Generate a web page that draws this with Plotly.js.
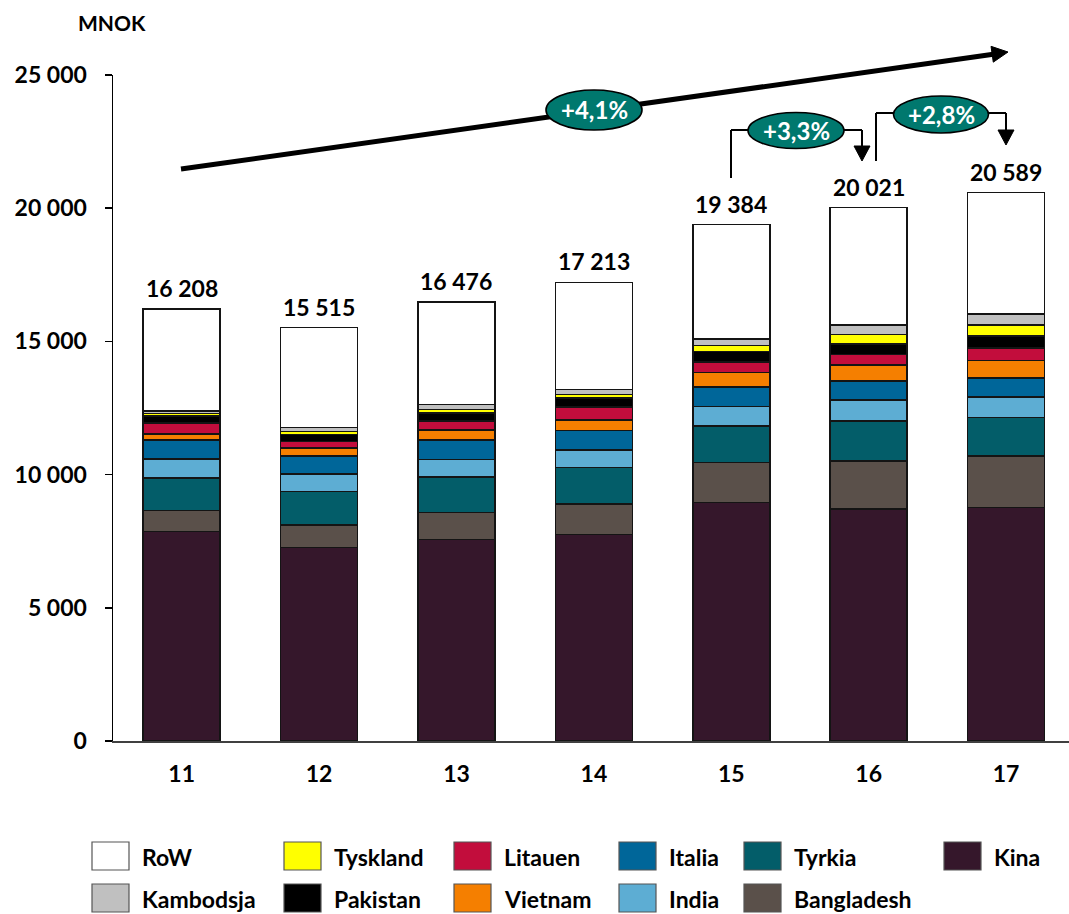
<!DOCTYPE html>
<html>
<head>
<meta charset="utf-8">
<script src="https://cdn.plot.ly/plotly-3.0.1.min.js"></script>
<style>html,body{margin:0;padding:0;background:#fff;}#chart{width:1069px;height:914px;}</style>
</head>
<body>
<div id="chart"></div>
<script>
// ---- data ----
const years = ['11', '12', '13', '14', '15', '16', '17'];
const totals = [16208, 15515, 16476, 17213, 19384, 20021, 20589];
const kina = [7860, 7270, 7570, 7750, 8950, 8710, 8770];
const bangladesh = [790, 840, 1010, 1140, 1500, 1800, 1930];
const tyrkia = [1220, 1260, 1330, 1380, 1380, 1500, 1440];
const india = [710, 650, 660, 650, 720, 790, 780];
const italia = [720, 680, 720, 740, 730, 710, 710];
const vietnam = [230, 290, 380, 390, 550, 600, 660];
const litauen = [400, 260, 350, 480, 390, 400, 470];
const pakistan = [280, 250, 290, 340, 400, 400, 440];
const tyskland = [80, 120, 130, 130, 230, 350, 410];
const kambodsja = [100, 150, 190, 200, 250, 360, 410];
const rowRest = [3818, 3745, 3846, 4013, 4284, 4401, 4569];
const seriesNames = ['Kina', 'Bangladesh', 'Tyrkia', 'India', 'Italia', 'Vietnam', 'Litauen', 'Pakistan', 'Tyskland', 'Kambodsja', 'RoW'];
const seriesValues = [kina, bangladesh, tyrkia, india, italia, vietnam, litauen, pakistan, tyskland, kambodsja, rowRest];
const seriesColors = ['#35172B', '#5A504A', '#035D69', '#5DADD3', '#006699', '#F57F00', '#C20D3C', '#000000', '#FFFF00', '#C0C0C0', '#FFFFFF'];
const legendRows = [['RoW', 'Tyskland', 'Litauen', 'Italia', 'Tyrkia', 'Kina'],
                    ['Kambodsja', 'Pakistan', 'Vietnam', 'India', 'Bangladesh']];
const yTicks = [0, 5000, 10000, 15000, 20000, 25000];
const unitLabel = 'MNOK';
const growthLabels = ['+4,1%', '+3,3%', '+2,8%'];

// ---- geometry helpers (plot area in pixels) ----
const L = 113, T = 75, W = 956, PH = 666, B = T + PH;
const FONT = 'Lato, "Liberation Sans", sans-serif';
function px(x) { return (x - L) / W; }
function py(y) { return (B - y) / PH; }
function fmt(n) { return String(n).replace(/\B(?=(\d{3})+(?!\d))/g, ' '); }

const traces = seriesNames.map((name, i) => ({
  type: 'bar',
  name: name,
  x: years,
  y: seriesValues[i],
  marker: { color: seriesColors[i], line: { color: '#141414', width: 1.6 } },
  hoverinfo: 'name+y',
  showlegend: false
}));

const annotations = [];
const shapes = [];

// totals above bars (x given as category index)
years.forEach((yr, i) => {
  annotations.push({
    x: i, y: totals[i], xref: 'x', yref: 'y', text: fmt(totals[i]),
    showarrow: false, xanchor: 'center', yanchor: 'middle', yshift: 21,
    font: { family: FONT, size: 23, color: '#000', weight: 'bold' }
  });
});

// unit label
annotations.push({
  x: px(112), y: py(23), xref: 'paper', yref: 'paper', text: unitLabel, showarrow: false,
  xanchor: 'center', yanchor: 'middle', font: { family: FONT, size: 21, color: '#000', weight: 'bold' }
});

// big trend arrow
function arrowHead(tipX, tipY, fromX, fromY, len, half) {
  const dx = tipX - fromX, dy = tipY - fromY, d = Math.hypot(dx, dy);
  const ux = dx / d, uy = dy / d;
  const bx = tipX - ux * len, by = tipY - uy * len;
  const p1 = [bx - uy * half, by + ux * half], p2 = [bx + uy * half, by - ux * half];
  return {
    type: 'path', xref: 'paper', yref: 'paper',
    path: `M ${px(tipX)},${py(tipY)} L ${px(p1[0])},${py(p1[1])} L ${px(p2[0])},${py(p2[1])} Z`,
    fillcolor: '#000', line: { color: '#000', width: 1 }
  };
}
shapes.push({ type: 'line', xref: 'paper', yref: 'paper', x0: px(181), y0: py(169), x1: px(995), y1: py(54), line: { color: '#000', width: 5 } });
shapes.push(arrowHead(1008, 52, 181, 169, 16, 8));

function ellipse(cx, cy, w, h, label) {
  shapes.push({ type: 'circle', xref: 'paper', yref: 'paper', x0: px(cx - w / 2), x1: px(cx + w / 2), y0: py(cy + h / 2), y1: py(cy - h / 2),
    fillcolor: '#00786E', line: { color: '#000', width: 1.6 } });
  annotations.push({ x: px(cx), y: py(cy), xref: 'paper', yref: 'paper', text: label, showarrow: false,
    xanchor: 'center', yanchor: 'middle', font: { family: FONT, size: 24, color: '#fff', weight: 'bold' } });
}
function seg(x0, y0, x1, y1, w) {
  shapes.push({ type: 'line', xref: 'paper', yref: 'paper', x0: px(x0), y0: py(y0), x1: px(x1), y1: py(y1), line: { color: '#000', width: w } });
}

ellipse(594, 110, 96, 40, growthLabels[0]);

// bracket 15 -> 16
seg(731, 178, 731, 130, 2); seg(731, 130, 750, 130, 2);
seg(842, 130, 862, 130, 2); seg(862, 130, 862, 147, 2);
shapes.push(arrowHead(862, 161, 862, 130, 15, 8));
ellipse(796, 130.5, 96, 36, growthLabels[1]);

// bracket 16 -> 17
seg(876, 161, 876, 113, 2); seg(876, 113, 896, 113, 2);
seg(987, 113, 1006, 113, 2); seg(1006, 113, 1006, 131, 2);
shapes.push(arrowHead(1006, 145, 1006, 113, 15, 8));
ellipse(941, 114.5, 95, 37, growthLabels[2]);

// custom legend
const colX = [92, 284, 454, 619, 744, 944];
const rowY = [856, 898];
legendRows.forEach((row, r) => {
  row.forEach((name, c) => {
    const idx = seriesNames.indexOf(name);
    shapes.push({ type: 'rect', xref: 'paper', yref: 'paper',
      x0: px(colX[c]), x1: px(colX[c] + 37), y0: py(rowY[r] + 14), y1: py(rowY[r] - 14),
      fillcolor: seriesColors[idx], line: { color: '#555', width: 1.2 } });
    annotations.push({ x: px(colX[c] + 48), y: py(rowY[r] + 1), xref: 'paper', yref: 'paper', text: name, showarrow: false,
      xanchor: 'left', yanchor: 'middle', font: { family: FONT, size: 23, color: '#000', weight: 'bold' } });
  });
});

const layout = {
  width: 1069, height: 914,
  margin: { l: L, r: 1069 - L - W, t: T, b: 914 - B, pad: 0 },
  paper_bgcolor: '#fff', plot_bgcolor: '#fff',
  barmode: 'stack', bargap: 0.44,
  separators: ', ',
  font: { family: FONT, size: 22, color: '#000' },
  showlegend: false,
  xaxis: {
    type: 'category', range: [-0.5, 6.458], showgrid: false, zeroline: false,
    showline: true, linecolor: '#404040', linewidth: 1.5, ticks: '',
    tickfont: { family: FONT, size: 23, color: '#000', weight: 'bold' }, ticklabelstandoff: 12
  },
  yaxis: {
    range: [0, 25000], tickvals: yTicks, tickformat: ',', showgrid: false, zeroline: false,
    showline: true, linecolor: '#000', linewidth: 1.5, ticks: 'outside', ticklen: 7, tickcolor: '#000', tickwidth: 1.5,
    tickfont: { family: FONT, size: 23, color: '#000', weight: 'bold' }, ticklabelstandoff: 13
  },
  shapes: shapes,
  annotations: annotations
};

Plotly.newPlot('chart', traces, layout, { displayModeBar: false, staticPlot: true });
</script>
</body>
</html>
